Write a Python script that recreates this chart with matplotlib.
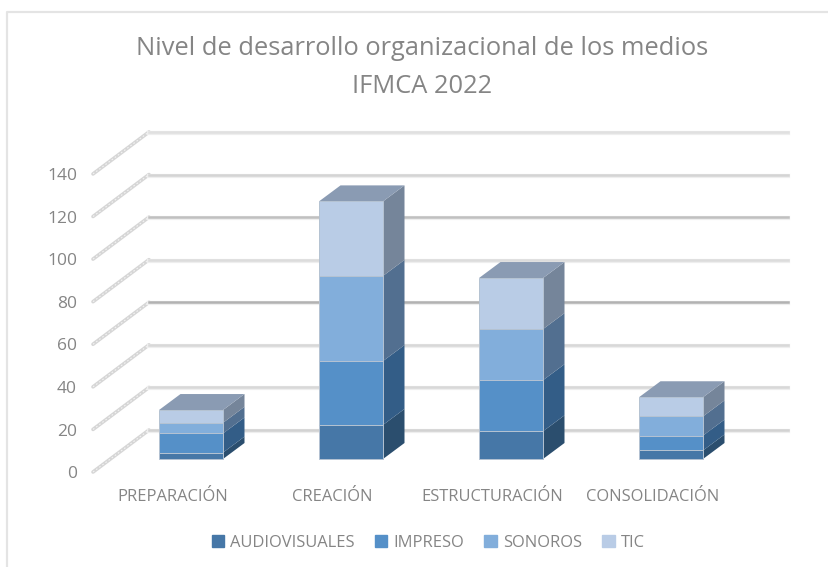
import numpy as np
import matplotlib
matplotlib.use('Agg')
import matplotlib.pyplot as plt
from matplotlib.patches import Patch

plt.rcParams['font.family'] = ['Open Sans', 'DejaVu Sans']

categories = ['PREPARACIÓN', 'CREACIÓN', 'ESTRUCTURACIÓN', 'CONSOLIDACIÓN']
series_names = ['AUDIOVISUALES', 'IMPRESO', 'SONOROS', 'TIC']
audiovisuales = [3, 16, 13, 4]
impreso = [9, 30, 24, 7]
sonoros = [5, 40, 24, 9]
tic = [6, 35, 24, 9]
y_ticks = [0, 20, 40, 60, 80, 100, 120, 140]

front_colors = ['#4677a7', '#5590c8', '#82aedb', '#b9cce6']
side_colors = ['#2b4e6e', '#335d87', '#526f90', '#75859a']
top_color = '#8a9bb3'
edge_color = '#b4c2d2'
grid_colors = ['#d2d2d2', '#d8d8d8', '#d8d8d8', '#b2b2b2', '#dcdcdc', '#c0c0c0', '#d4d4d4', '#e0e0e0']
text_color = '#858585'

# pixel scales of the picture
PX_X = 160.0
PX_Y = 2.129
WIDTH, HEIGHT = 829, 567

fig = plt.figure(figsize=(WIDTH/100, HEIGHT/100), dpi=100)
ax = fig.add_axes([0, 0, 1, 1])
ax.set_xlim(-191/PX_X, (WIDTH-191)/PX_X)
ax.set_ylim((472-HEIGHT)/PX_Y, 472/PX_Y)
ax.axis('off')


def xp(px):
    return (px-191)/PX_X


def yp(px):
    return (472-px)/PX_Y


# marco del grafico
ax.plot([xp(7), xp(7), xp(829)], [yp(567), yp(12), yp(12)], color='#e4e4e4', lw=1.6, zorder=1)

# paredes: lineas diagonales y lineas horizontales del fondo
wall_dx = 56/PX_X
wall_dy = 42/PX_Y
for v, c in zip(y_ticks, grid_colors):
    ax.plot([xp(93), xp(93)+wall_dx], [v, v+wall_dy], color='#d6d6d6', lw=2.6, solid_capstyle='round', zorder=2)
    ax.plot([xp(93), xp(93)+wall_dx], [v, v+wall_dy], color='#f3f3f3', lw=0.8, ls=(0, (1.5, 2)), zorder=2)
    ax.plot([xp(149), xp(788)], [v+wall_dy-0.5, v+wall_dy-0.5], color='#eeeeee', lw=3, zorder=2)
    ax.plot([xp(149), xp(788)], [v+wall_dy, v+wall_dy], color=c, lw=1.8, zorder=2)
    ax.text(xp(77), v-1, str(v), ha='right', va='center', fontsize=12.5, color=text_color)

# barras apiladas
x = np.arange(len(categories))
bar_w = 64/PX_X
base = 13/PX_Y
depth_x = 21.5/PX_X
depth_y = 16/PX_Y
bottom = np.zeros(len(categories)) + base
for vals, fc, sc in zip([audiovisuales, impreso, sonoros, tic], front_colors, side_colors):
    vals = np.array(vals, dtype=float)
    ax.bar(x, vals, bottom=bottom, width=bar_w, color=fc, edgecolor=edge_color, linewidth=0.7, zorder=4)
    for xi, b, v in zip(x, bottom, vals):
        r = xi+bar_w/2
        ax.fill([r, r+depth_x, r+depth_x, r], [b, b+depth_y, b+v+depth_y, b+v], color=sc, lw=0, zorder=3.5)
    bottom = bottom+vals
for xi, t in zip(x, bottom):
    l = xi-bar_w/2
    ax.fill([l, l+bar_w, l+bar_w+depth_x, l+depth_x], [t, t, t+depth_y, t+depth_y], color=top_color, lw=0, zorder=3.6)

# etiquetas de categorias
for xi, name in zip(x, categories):
    ax.text(xi-18.5/PX_X, yp(497), name, ha='center', va='center', fontsize=11.9, color=text_color)

ax.text(xp(422), yp(49), 'Nivel de desarrollo organizacional de los medios', ha='center', va='center', fontsize=18.4, color=text_color)
ax.text(xp(422), yp(87), 'IFMCA 2022', ha='center', va='center', fontsize=18.4, color=text_color)

handles = [Patch(color=c, label=n) for c, n in zip(front_colors, series_names)]
fig.legend(handles=handles, loc='center', bbox_to_anchor=(428/WIDTH, 1-543/HEIGHT), ncol=4, frameon=False,
           fontsize=11.9, labelcolor=text_color, handlelength=0.75, handleheight=0.75, handletextpad=0.35, columnspacing=1.25)

fig.savefig('out.png', dpi=100)
